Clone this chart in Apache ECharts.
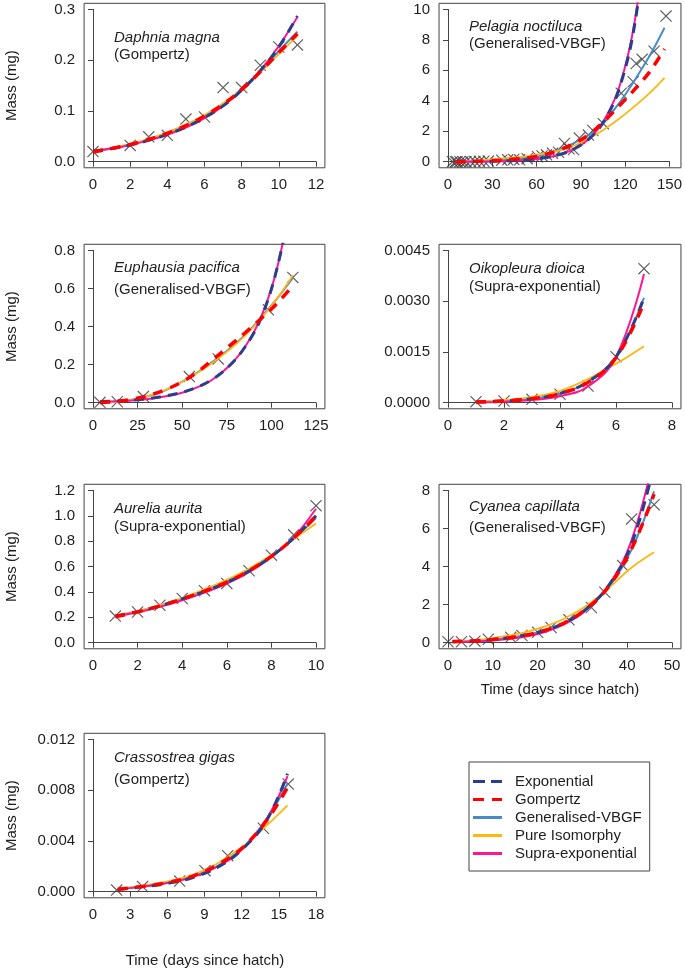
<!DOCTYPE html>
<html><head><meta charset="utf-8">
<script src="https://cdn.jsdelivr.net/npm/echarts@6/dist/echarts.min.js"></script>
<style>html,body{margin:0;padding:0;background:#fff}#c{width:685px;height:972px}</style>
</head><body><div id="c"></div>
<script>
// ---------- Data ----------
const modelNames = ['Exponential','Gompertz','Generalised-VBGF','Pure Isomorphy','Supra-exponential'];

// Daphnia magna
const daphniaObsX = [0,2,3,4,5,6,7,8,9,10,11];
const daphniaObsY = [0.020,0.032,0.049,0.052,0.084,0.088,0.146,0.146,0.190,0.226,0.230];
const daphniaCurveX = [0,1,2,3,4,5,6,7,8,9,10,11];
const daphniaExp   = [0.021,0.026,0.033,0.042,0.054,0.068,0.087,0.110,0.141,0.179,0.226,0.287];
const daphniaGomp  = [0.019,0.026,0.034,0.044,0.056,0.071,0.090,0.113,0.142,0.177,0.215,0.252];
const daphniaVbgf  = [0.020,0.026,0.034,0.044,0.056,0.071,0.090,0.113,0.142,0.178,0.218,0.256];
const daphniaIso   = [0.021,0.027,0.035,0.045,0.058,0.073,0.092,0.115,0.143,0.176,0.212,0.248];
const daphniaSupra = [0.021,0.026,0.033,0.042,0.053,0.067,0.086,0.110,0.141,0.180,0.228,0.285];

// Pelagia noctiluca
const pelagiaObsX = [3,5,6,8,10,12,15,18,21,24,27,36,40,44,48,53,60,63,66,70,74,78,81,84,88,94,97,104,116,124,126,130,138,146];
const pelagiaObsY = [0,0,0,0,0,0,0.02,0.02,0.03,0.03,0.04,0.1,0.12,0.15,0.12,0.2,0.33,0.38,0.45,0.55,0.62,1.2,0.85,0.8,1.55,1.75,2.05,2.5,4.5,5.25,6.45,6.72,7.26,9.56];
const pelagiaCurveX = [5,15,25,35,45,55,65,75,85,95,105,115,125,135,145];
const pelagiaExp   = [0.01,0.015,0.025,0.045,0.08,0.15,0.27,0.48,0.87,1.55,2.75,4.9,9.0,16.5,null];
const pelagiaGomp  = [0.0,0.02,0.05,0.1,0.17,0.28,0.47,0.78,1.22,1.83,2.7,3.7,4.75,5.9,7.4];
const pelagiaVbgf  = [0.0,0.01,0.04,0.09,0.16,0.27,0.47,0.8,1.25,1.8,2.7,3.9,5.35,6.95,8.8];
const pelagiaIso   = [0.02,0.06,0.12,0.2,0.28,0.38,0.54,0.75,1.08,1.55,2.15,2.85,3.65,4.5,5.5];
const pelagiaSupra = [0.003,0.007,0.016,0.034,0.07,0.14,0.26,0.47,0.86,1.55,2.8,5.0,9.2,17.0,null];

// Euphausia pacifica
const euphausiaObsX = [3.9,13.6,28.2,54,70.2,98.3,112];
const euphausiaObsY = [0.002,0.005,0.032,0.137,0.23,0.488,0.658];
const euphausiaCurveX = [4,13,22,31,40,49,58,67,76,85,94,103,112];
const euphausiaExp   = [0.006,0.009,0.014,0.022,0.034,0.052,0.08,0.123,0.19,0.29,0.44,0.70,1.1];
const euphausiaGomp  = [0.0,0.006,0.018,0.038,0.066,0.105,0.158,0.225,0.295,0.365,0.44,0.52,0.615];
const euphausiaVbgf  = [0.0,0.005,0.015,0.035,0.063,0.105,0.155,0.215,0.28,0.355,0.445,0.545,0.655];
const euphausiaIso   = [0.0,0.005,0.016,0.036,0.065,0.105,0.153,0.21,0.275,0.35,0.44,0.545,0.67];
const euphausiaSupra = [0.004,0.007,0.012,0.02,0.032,0.05,0.079,0.122,0.19,0.29,0.445,0.70,1.12];

// Oikopleura dioica
const oikoObsX = [1,2,3,4,5,6,7];
const oikoObsY = [0.00003,0.00005,0.0001,0.00025,0.00049,0.00136,0.00396];
const oikoCurveX = [1,2,3,4,5,6,7];
const oikoExp   = [0.00002,0.00005,0.00012,0.00027,0.00062,0.00135,0.0031];
const oikoGomp  = [0.00002,0.00005,0.00012,0.00027,0.0006,0.00133,0.00295];
const oikoVbgf  = [0.00002,0.00005,0.00012,0.00027,0.00062,0.00135,0.0031];
const oikoIso   = [0.00003,0.00008,0.00017,0.00035,0.0007,0.00115,0.00167];
const oikoSupra = [0.00001,0.00003,0.00008,0.00019,0.00048,0.00135,0.0038];

// Aurelia aurita
const aureliaObsX = [1,2,3,4,5,6,7,8,9,10];
const aureliaObsY = [0.21,0.242,0.295,0.348,0.41,0.467,0.567,0.69,0.85,1.08];
const aureliaCurveX = [1,2,3,4,5,6,7,8,9,10];
const aureliaExp   = [0.21,0.245,0.29,0.345,0.405,0.475,0.565,0.68,0.825,1.0];
const aureliaGomp  = [0.205,0.243,0.29,0.345,0.407,0.478,0.567,0.68,0.825,0.995];
const aureliaVbgf  = [0.21,0.247,0.292,0.347,0.41,0.482,0.57,0.68,0.82,0.985];
const aureliaIso   = [0.215,0.25,0.296,0.352,0.42,0.495,0.585,0.69,0.815,0.94];
const aureliaSupra = [0.21,0.24,0.283,0.335,0.395,0.465,0.555,0.675,0.83,1.055];

// Cyanea capillata
const cyaneaObsX = [0,3,6,9,14,16.5,20,23,27,32,35,39,41,46];
const cyaneaObsY = [0.05,0.05,0.08,0.18,0.28,0.38,0.55,0.8,1.2,1.85,2.65,4.05,6.5,7.25];
const cyaneaCurveX = [1,6,11,16,21,26,31,36,41,46];
const cyaneaExp   = [0.05,0.1,0.19,0.34,0.6,1.05,1.8,3.05,5.2,9.3];
const cyaneaGomp  = [0.06,0.1,0.19,0.34,0.6,1.05,1.8,3.0,4.95,7.8];
const cyaneaVbgf  = [0.05,0.1,0.19,0.34,0.6,1.04,1.78,2.95,4.9,7.95];
const cyaneaIso   = [0.06,0.13,0.28,0.48,0.8,1.27,1.95,2.9,3.95,4.75];
const cyaneaSupra = [0.03,0.07,0.14,0.27,0.52,0.97,1.75,3.05,5.4,9.8];

// Crassostrea gigas
const crassObsX = [1.91,4.0,7.0,9.04,10.87,13.75,15.76];
const crassObsY = [0.00013,0.0004,0.00084,0.00166,0.00284,0.005,0.00848];
const crassCurveX = [2,4,6,8,10,12,14,15.7];
const crassExp   = [0.00018,0.00038,0.00065,0.0011,0.0019,0.0033,0.0056,0.0093];
const crassGomp  = [0.0002,0.00042,0.00072,0.0012,0.0021,0.0034,0.0056,0.0082];
const crassVbgf  = [0.0002,0.0004,0.0007,0.0012,0.002,0.0034,0.0057,0.0085];
const crassIso   = [0.00025,0.00048,0.00082,0.0013,0.0022,0.0035,0.0052,0.0068];
const crassSupra = [0.0002,0.0004,0.00068,0.00115,0.00195,0.0033,0.0057,0.0091];

// Axis tick ranges: [min, max, step]
const daphniaXTicks = [0,12,2],   daphniaYTicks = [0,0.3,0.1];
const pelagiaXTicks = [0,150,30], pelagiaYTicks = [0,10,2];
const euphausiaXTicks = [0,125,25], euphausiaYTicks = [0,0.8,0.2];
const oikoXTicks = [0,8,2], oikoYTicks = [0,0.0045,0.0015];
const aureliaXTicks = [0,10,2], aureliaYTicks = [0,1.2,0.2];
const cyaneaXTicks = [0,50,10], cyaneaYTicks = [0,8,2];
const crassXTicks = [0,18,3], crassYTicks = [0,0.012,0.004];

// ---------- Layout / style ----------
const FONT = '"Liberation Sans", Arial, sans-serif';
const TXT = '#1e1e1e';
const AX = '#444';
const colLeft = [93, 448], colW = [223, 224];
const rowTop = [9.4, 250.4, 490.4, 739.4], rowH = 152.3;
const colors = {
  'Exponential': '#2a3d8f', 'Gompertz': '#ff0000', 'Generalised-VBGF': '#4a8ac8',
  'Pure Isomorphy': '#ffb60f', 'Supra-exponential': '#ff1493'
};
const legendIcons = {
  'Exponential': 'path://M0,0H12V3H0ZM18,0H29V3H18Z',
  'Gompertz': 'path://M0,0H11V3H0ZM19,0H29V3H19Z',
  'Generalised-VBGF': 'path://M0,0H29V3H0Z',
  'Pure Isomorphy': 'path://M0,0H29V3H0Z',
  'Supra-exponential': 'path://M0,0H29V3H0Z'
};

const panels = [
  {sp:'Daphnia magna', model:'(Gompertz)', col:0,row:0, xt:daphniaXTicks, yt:daphniaYTicks, yd:1, ox:daphniaObsX, oy:daphniaObsY, cx:daphniaCurveX, exp:daphniaExp, gomp:daphniaGomp, vbgf:daphniaVbgf, iso:daphniaIso, supra:daphniaSupra, ty:[37.5,55]},
  {sp:'Pelagia noctiluca', model:'(Generalised-VBGF)', col:1,row:0, xt:pelagiaXTicks, yt:pelagiaYTicks, yd:0, ox:pelagiaObsX, oy:pelagiaObsY, cx:pelagiaCurveX, exp:pelagiaExp, gomp:pelagiaGomp, vbgf:pelagiaVbgf, iso:pelagiaIso, supra:pelagiaSupra, ty:[26.7,44]},
  {sp:'Euphausia pacifica', model:'(Generalised-VBGF)', col:0,row:1, xt:euphausiaXTicks, yt:euphausiaYTicks, yd:1, ox:euphausiaObsX, oy:euphausiaObsY, cx:euphausiaCurveX, exp:euphausiaExp, gomp:euphausiaGomp, vbgf:euphausiaVbgf, iso:euphausiaIso, supra:euphausiaSupra, ty:[268,290]},
  {sp:'Oikopleura dioica', model:'(Supra-exponential)', col:1,row:1, xt:oikoXTicks, yt:oikoYTicks, yd:4, ox:oikoObsX, oy:oikoObsY, cx:oikoCurveX, exp:oikoExp, gomp:oikoGomp, vbgf:oikoVbgf, iso:oikoIso, supra:oikoSupra, ty:[269,286.5]},
  {sp:'Aurelia aurita', model:'(Supra-exponential)', col:0,row:2, xt:aureliaXTicks, yt:aureliaYTicks, yd:1, ox:aureliaObsX, oy:aureliaObsY, cx:aureliaCurveX, exp:aureliaExp, gomp:aureliaGomp, vbgf:aureliaVbgf, iso:aureliaIso, supra:aureliaSupra, ty:[509,527]},
  {sp:'Cyanea capillata', model:'(Generalised-VBGF)', col:1,row:2, xt:cyaneaXTicks, yt:cyaneaYTicks, yd:0, ox:cyaneaObsX, oy:cyaneaObsY, cx:cyaneaCurveX, exp:cyaneaExp, gomp:cyaneaGomp, vbgf:cyaneaVbgf, iso:cyaneaIso, supra:cyaneaSupra, ty:[507,527.5]},
  {sp:'Crassostrea gigas', model:'(Gompertz)', col:0,row:3, xt:crassXTicks, yt:crassYTicks, yd:3, ox:crassObsX, oy:crassObsY, cx:crassCurveX, exp:crassExp, gomp:crassGomp, vbgf:crassVbgf, iso:crassIso, supra:crassSupra, ty:[758,780]}
];

const CROSS = 'path://M0,0.7L0.7,0L10,9.3L9.3,10ZM9.3,0L10,0.7L0.7,10L0,9.3Z';
const grids = [], xAxes = [], yAxes = [], series = [], graphics = [];

function pairs(xs, ys) { return xs.map((x,i) => [x, ys[i]]); }

panels.forEach((p, i) => {
  const L = colLeft[p.col], W = colW[p.col], T = rowTop[p.row], H = rowH;
  const ex = 0.04 * W, ey = 0.04 * H;
  const xr = p.xt[1] - p.xt[0], yr = p.yt[1] - p.yt[0];
  grids.push({left: L - ex, top: T - ey, width: W + 2*ex, height: H + 2*ey, show: true, borderColor: AX, borderWidth: 1, backgroundColor: 'transparent'});
  grids.push({left: L, top: T, width: W, height: H, show: false});
  const bi = 2*i, ai = 2*i + 1;
  xAxes.push({gridIndex: bi, type: 'value', show: false, min: p.xt[0] - 0.04*xr, max: p.xt[1] + 0.04*xr});
  yAxes.push({gridIndex: bi, type: 'value', show: false, min: p.yt[0] - 0.04*yr, max: p.yt[1] + 0.04*yr});
  xAxes.push({gridIndex: ai, type: 'value', min: p.xt[0], max: p.xt[1], interval: p.xt[2], offset: ey,
    axisLine: {show: true, lineStyle: {color: AX, width: 1}},
    axisTick: {show: true, length: 5, lineStyle: {color: AX}},
    axisLabel: {color: TXT, fontSize: 15, fontFamily: FONT, margin: 10, showMinLabel: true, showMaxLabel: true},
    splitLine: {show: false}});
  yAxes.push({gridIndex: ai, type: 'value', min: p.yt[0], max: p.yt[1], interval: p.yt[2], offset: ex,
    axisLine: {show: true, lineStyle: {color: AX, width: 1}},
    axisTick: {show: true, length: 5, lineStyle: {color: AX}},
    axisLabel: {color: TXT, fontSize: 15, fontFamily: FONT, margin: 9, showMinLabel: true, showMaxLabel: true,
      formatter: v => Number(v).toFixed(p.yd)},
    splitLine: {show: false}});
  series.push({type: 'scatter', name: 'Observed', xAxisIndex: bi, yAxisIndex: bi, data: pairs(p.ox, p.oy),
    symbol: CROSS, symbolSize: 12, itemStyle: {color: '#3a3a3a'}, silent: true, z: 2});
  const defs = [
    ['Generalised-VBGF', p.vbgf, 2, 'solid'],
    ['Pure Isomorphy', p.iso, 1.8, 'solid'],
    ['Supra-exponential', p.supra, 2, 'solid'],
    ['Exponential', p.exp, 3, [10, 7]],
    ['Gompertz', p.gomp, 3.5, [10, 8]]
  ];
  defs.forEach(([nm, ys, w, t]) => {
    series.push({type: 'line', name: nm, xAxisIndex: bi, yAxisIndex: bi, data: pairs(p.cx, ys),
      showSymbol: false, symbol: 'none', smooth: 0.4, clip: true, silent: true,
      lineStyle: {color: colors[nm], width: w, type: t, cap: 'butt'}, itemStyle: {color: colors[nm]}, z: 3});
  });
  graphics.push({type: 'text', x: L + 21, y: p.ty[0],
    style: {text: p.sp, font: 'italic 15px ' + FONT, fill: TXT, verticalAlign: 'middle'}});
  graphics.push({type: 'text', x: L + 21, y: p.ty[1],
    style: {text: p.model, font: '15px ' + FONT, fill: TXT, verticalAlign: 'middle'}});
  if (p.col === 0) {
    graphics.push({type: 'text', x: 12, y: T + H/2, rotation: Math.PI/2,
      style: {text: 'Mass (mg)', font: '15px ' + FONT, fill: TXT, align: 'center', verticalAlign: 'middle'}});
  }
});
graphics.push({type: 'text', x: 205, y: 961, style: {text: 'Time (days since hatch)', font: '15px ' + FONT, fill: TXT, align: 'center', verticalAlign: 'middle'}});
graphics.push({type: 'text', x: 560, y: 690, style: {text: 'Time (days since hatch)', font: '15px ' + FONT, fill: TXT, align: 'center', verticalAlign: 'middle'}});

const chart = echarts.init(document.getElementById('c'), null, {renderer: 'canvas'});
chart.setOption({
  animation: false,
  backgroundColor: '#fff',
  grid: grids, xAxis: xAxes, yAxis: yAxes, series: series,
  legend: {
    orient: 'vertical', left: 469, top: 762,
    data: modelNames.map(n => ({name: n, icon: legendIcons[n]})),
    itemWidth: 29, itemHeight: 3, itemGap: 3,
    padding: [12, 8, 10, 4],
    borderColor: AX, borderWidth: 1,
    selectedMode: false,
    textStyle: {fontFamily: FONT, fontSize: 15, color: TXT, lineHeight: 15, padding: [0, 0, 0, 8]}
  },
  graphic: graphics
});
</script></body></html>
